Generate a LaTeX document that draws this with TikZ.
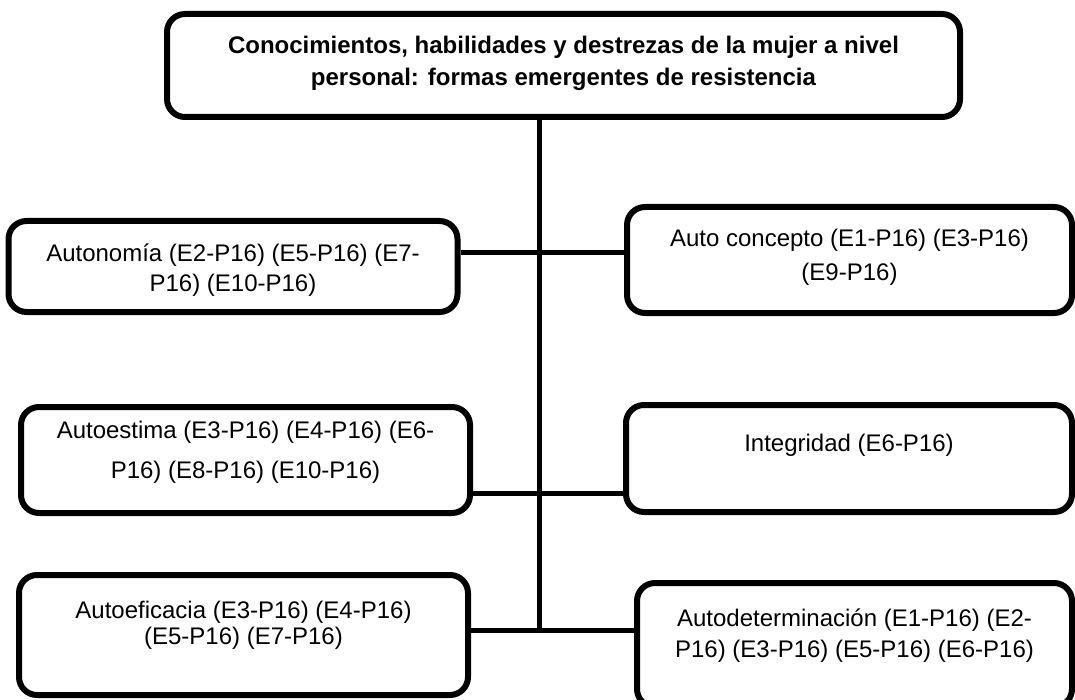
\documentclass[tikz,border=0pt]{standalone}
\usepackage{fontspec}
\setmainfont{Liberation Sans}
\usepackage{tikz}

\begin{document}
\begin{tikzpicture}[x=1pt, y=-1pt,
        box/.style={rectangle, draw=black, line width=6pt, rounded corners=18pt, inner sep=0pt, align=center, font=\fontsize{24}{30}\selectfont},
        link/.style={draw=black, line width=5pt}]
        \useasboundingbox (0,0) rectangle (1075,700);
        \node [box, minimum width=793pt, minimum height=103pt, text height=50pt, text depth=9.8pt, font=\fontsize{24}{30}\selectfont\bfseries] (top) at (563.5,65.5) {Conocimientos, habilidades y destrezas de la mujer a nivel\\[2pt] personal: formas emergentes de resistencia};
        \node [box, minimum width=449pt, minimum height=91pt, text height=52pt, text depth=1.8pt] (autonomia) at (233,266.5) {Autonomía (E2-P16) (E5-P16) (E7-\\ P16) (E10-P16)};
        \node [box, minimum width=445pt, minimum height=106pt, text height=52pt, text depth=10.8pt] (concepto) at (849.5,260) {Auto concepto (E1-P16) (E3-P16)\\[4pt] (E9-P16)};
        \node [box, minimum width=449pt, minimum height=106pt, text height=58pt, text depth=20.8pt] (estima) at (245.5,460) {Autoestima (E3-P16) (E4-P16) (E6-\\[10pt] P16) (E8-P16) (E10-P16)};
        \node [box, minimum width=446pt, minimum height=107pt, text height=18pt, text depth=31.8pt] (integridad) at (849,458.5) {Integridad (E6-P16)};
        \node [box, minimum width=449pt, minimum height=120pt, text height=44pt, text depth=24.8pt] (eficacia) at (243.5,635) {Autoeficacia (E3-P16) (E4-P16)\\[-4pt] (E5-P16) (E7-P16)};
        \node [box, minimum width=435pt, minimum height=124pt, text height=49pt, text depth=23.8pt] (determinacion) at (854.5,645) {Autodeterminación (E1-P16) (E2-\\[1pt] P16) (E3-P16) (E5-P16) (E6-P16)};
        \coordinate (j1) at (539,253);
        \coordinate (j2) at (539,493);
        \coordinate (j3) at (539,630);
        \draw [link] (top.south -| j3) -- (j3);
        \draw [link] (autonomia.east |- j1) -- (concepto.west |- j1);
        \draw [link] (estima.east |- j2) -- (integridad.west |- j2);
        \draw [link] (eficacia.east |- j3) -- (determinacion.west |- j3);
\end{tikzpicture}
\end{document}
